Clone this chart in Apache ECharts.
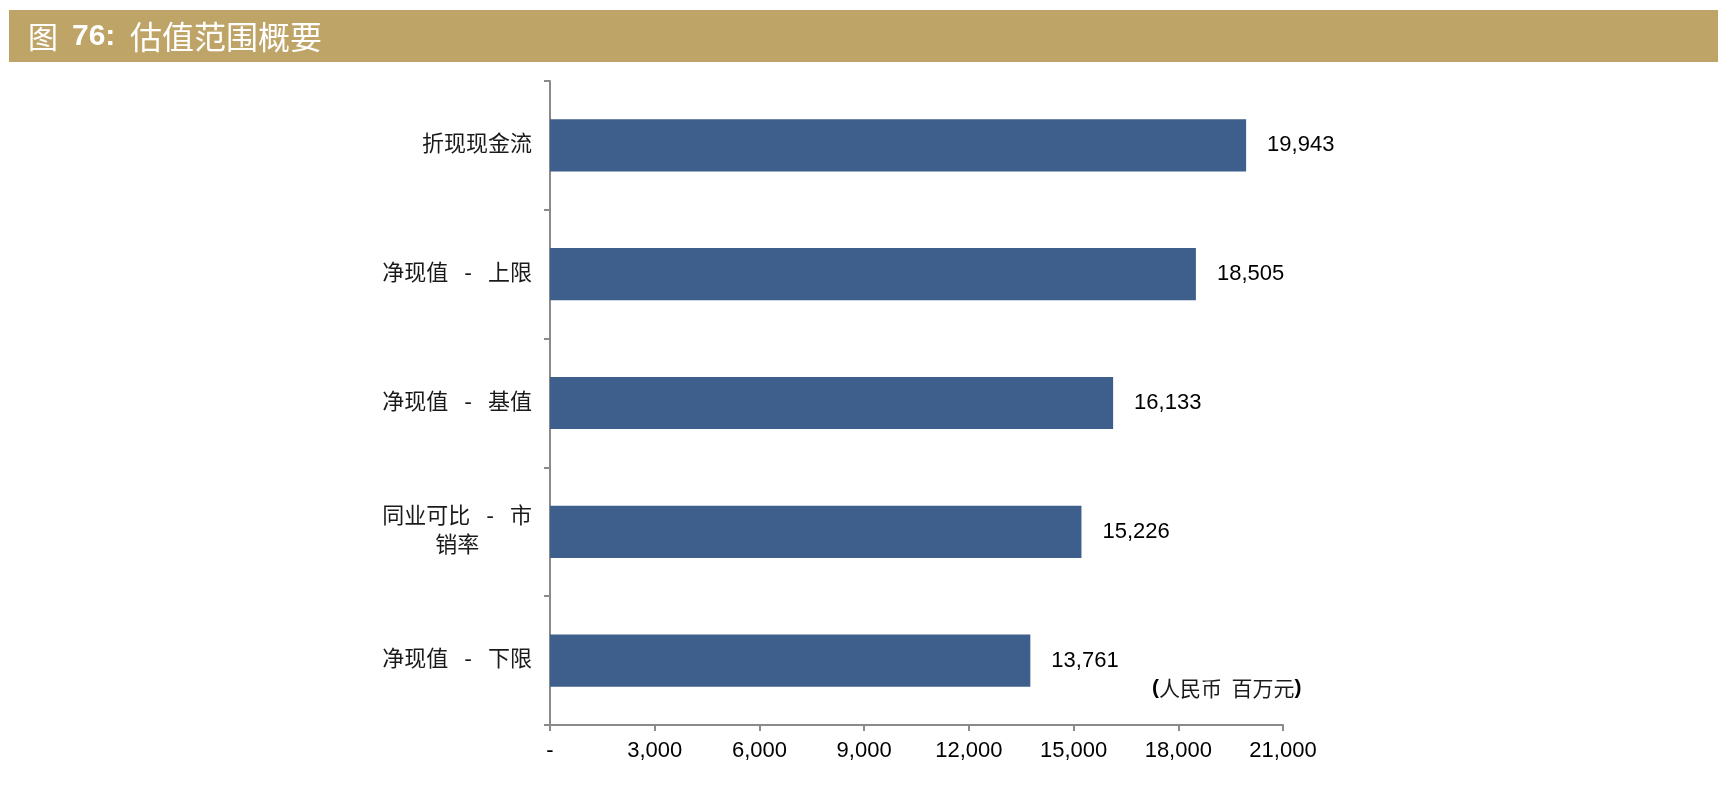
<!DOCTYPE html>
<html>
<head>
<meta charset="utf-8">
<script src="https://cdn.jsdelivr.net/npm/echarts@6/dist/echarts.min.js"></script>
<style>
html,body{margin:0;padding:0;background:#fff;}
#chart{width:1726px;height:794px;}
</style>
</head>
<body>
<div id="chart"></div>
<script>
var titlePrefix = '图';
var titleNumber = '76:';
var titleMain = '估值范围概要';
var unitText = '人民币  百万元';
var categories = ['折现现金流', '净现值 - 上限', '净现值 - 基值', '同业可比 - 市销率', '净现值 - 下限'];
var values = [19943, 18505, 16133, 15226, 13761];
var xTickLabels = ['-', '3,000', '6,000', '9,000', '12,000', '15,000', '18,000', '21,000'];
var xMin = 0, xMax = 21000, xInterval = 3000;

var labelFont = '"DejaVu Sans Mono", "Noto Sans CJK SC", sans-serif';
var numFont = '"Liberation Sans", Arial, sans-serif';
var cjkFont = '"Noto Sans CJK SC", sans-serif';

var chart = echarts.init(document.getElementById('chart'), null, {renderer: 'canvas'});

function fmtNum(v) {
  return String(v).replace(/\B(?=(\d{3})+(?!\d))/g, ',');
}

var option = {
  animation: false,
  backgroundColor: '#ffffff',
  grid: {left: 550, right: 443, top: 81, bottom: 69, containLabel: false},
  xAxis: {
    type: 'value',
    min: xMin, max: xMax, interval: xInterval,
    axisLine: {show: true, lineStyle: {color: '#8a8a8a', width: 2}},
    axisTick: {show: true, length: 6, lineStyle: {color: '#8a8a8a', width: 2}},
    splitLine: {show: false},
    axisLabel: {
      margin: 15,
      fontSize: 22,
      fontFamily: numFont,
      color: '#000',
      formatter: function (v) { return xTickLabels[Math.round((v - xMin) / xInterval)]; }
    }
  },
  yAxis: {
    type: 'category',
    inverse: true,
    data: categories,
    axisLine: {show: true, lineStyle: {color: '#8a8a8a', width: 2}},
    axisTick: {show: true, length: 6, alignWithLabel: false, lineStyle: {color: '#8a8a8a', width: 2}},
    axisLabel: {
      margin: 18,
      fontSize: 22,
      fontFamily: labelFont,
      color: '#1a1a1a',
      lineHeight: 29,
      formatter: function (v) {
        if (v === '同业可比 - 市销率') {
          return '{a|同业可比 - 市}\n{b|销率}';
        }
        return v;
      },
      rich: {
        a: {fontSize: 22, fontFamily: labelFont, color: '#1a1a1a', lineHeight: 29, align: 'right'},
        b: {fontSize: 22, fontFamily: labelFont, color: '#1a1a1a', lineHeight: 29, align: 'center'}
      }
    }
  },
  series: [{
    type: 'bar',
    data: values,
    barWidth: '40.5%',
    itemStyle: {color: '#3e5f8b'},
    label: {
      show: true,
      position: 'right',
      distance: 21,
      fontSize: 22,
      fontFamily: numFont,
      color: '#000',
      formatter: function (p) { return fmtNum(p.value); }
    }
  }],
  graphic: [
    {
      type: 'rect',
      shape: {x: 9, y: 10, width: 1709, height: 52},
      style: {fill: '#bfa468'},
      silent: true
    },
    {
      type: 'text', x: 28, y: 37,
      style: {text: titlePrefix, verticalAlign: 'middle', fontSize: 30, fontFamily: cjkFont, fill: '#ffffff'},
      silent: true
    },
    {
      type: 'text', x: 72, y: 37,
      style: {text: titleNumber, verticalAlign: 'middle', fontSize: 30, fontWeight: 'bold', fontFamily: numFont, fill: '#ffffff'},
      silent: true
    },
    {
      type: 'text', x: 130, y: 37,
      style: {text: titleMain, verticalAlign: 'middle', fontSize: 32, fontFamily: cjkFont, fill: '#ffffff'},
      silent: true
    },
    {
      type: 'text',
      x: 1152, y: 688,
      style: {
        text: '{p|(}{t|' + unitText + '}{p|)}',
        verticalAlign: 'middle',
        rich: {
          p: {fontSize: 21, fontFamily: numFont, fontWeight: 'bold', fill: '#000'},
          t: {fontSize: 21, fontFamily: cjkFont, fill: '#1a1a1a'}
        }
      },
      silent: true
    }
  ]
};
chart.setOption(option);
</script>
</body>
</html>
